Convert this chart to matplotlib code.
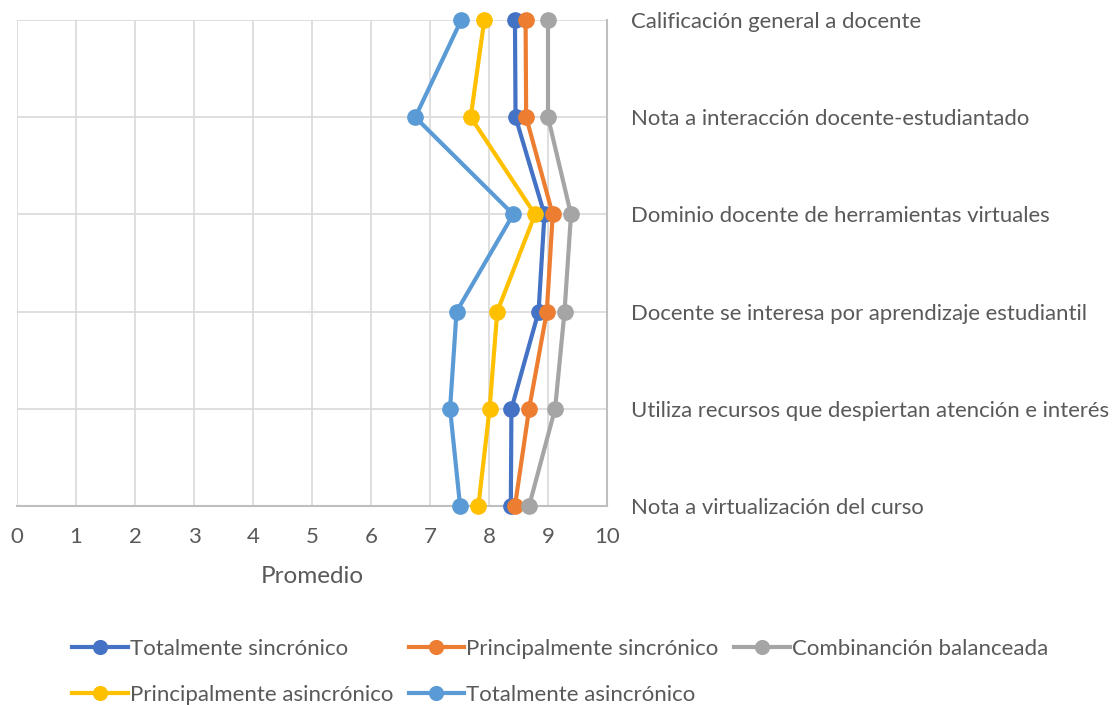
import numpy as np
import matplotlib
matplotlib.use('Agg')
import matplotlib.pyplot as plt

plt.rcParams['font.family'] = ['Lato', 'DejaVu Sans']

# categories, from top to bottom
categorias = [
	'Calificación general a docente',
	'Nota a interacción docente-estudiantado',
	'Dominio docente de herramientas virtuales',
	'Docente se interesa por aprendizaje estudiantil',
	'Utiliza recursos que despiertan atención e interés',
	'Nota a virtualización del curso',
]

series_nombres = [
	'Totalmente sincrónico',
	'Principalmente sincrónico',
	'Combinanción balanceada',
	'Principalmente asincrónico',
	'Totalmente asincrónico',
]
totalmente_sincronico = [8.44, 8.45, 8.94, 8.84, 8.38, 8.37]
principalmente_sincronico = [8.62, 8.63, 9.08, 8.98, 8.68, 8.44]
combinacion_balanceada = [9.00, 9.00, 9.39, 9.28, 9.12, 8.68]
principalmente_asincronico = [7.92, 7.69, 8.78, 8.14, 8.01, 7.82]
totalmente_asincronico = [7.53, 6.75, 8.41, 7.45, 7.34, 7.51]

colores = ['#4472C4', '#ED7D31', '#A5A5A5', '#FFC000', '#5B9BD5']
x_ticks = list(range(0, 11))

valores = [totalmente_sincronico, principalmente_sincronico, combinacion_balanceada,
	principalmente_asincronico, totalmente_asincronico]

fig = plt.figure(figsize=(11.19, 7.05), dpi=100)
ax = fig.add_axes([17 / 1119, 1 - 506 / 705, 590 / 1119, 486 / 705])

y = np.arange(len(categorias))
handles = []
for nombre, vals, color in zip(series_nombres, valores, colores):
	h, = ax.plot(vals, y, color=color, linewidth=3, marker='o', markersize=11,
		label=nombre, zorder=3, clip_on=False)
	handles.append(h)

ax.set_xlim(0, 10)
ax.set_ylim(len(categorias) - 1, 0)
ax.set_xticks(x_ticks)
ax.set_yticks(y)
ax.set_yticklabels(categorias)
ax.yaxis.tick_right()
ax.tick_params(axis='y', length=0, pad=17, labelsize=15.9, labelcolor='#595959')
ax.tick_params(axis='x', length=0, pad=15, labelsize=16, labelcolor='#595959')

ax.grid(True, color='#D9D9D9', linewidth=1.2, zorder=0)
ax.set_axisbelow(True)
for s in ['left', 'top']:
	ax.spines[s].set_visible(False)
ax.spines['right'].set_color('#BFBFBF')
ax.spines['right'].set_linewidth(1.5)
ax.spines['bottom'].set_color('#BFBFBF')
ax.spines['bottom'].set_linewidth(1.5)

ax.set_xlabel('Promedio', fontsize=17.5, color='#595959', labelpad=14)

# legend fills column-wise, so reorder for the Excel row layout
orden = [0, 3, 1, 4, 2]
fig.legend([handles[i] for i in orden], [series_nombres[i] for i in orden],
	loc='upper left', bbox_to_anchor=(52 / 1119, 1 - 619 / 705), ncol=3, frameon=False,
	fontsize=16, labelcolor='#595959', handlelength=2.5, handletextpad=0.1,
	columnspacing=0.7, labelspacing=1.17, markerscale=0.9)

fig.savefig('out.png', dpi=100)
